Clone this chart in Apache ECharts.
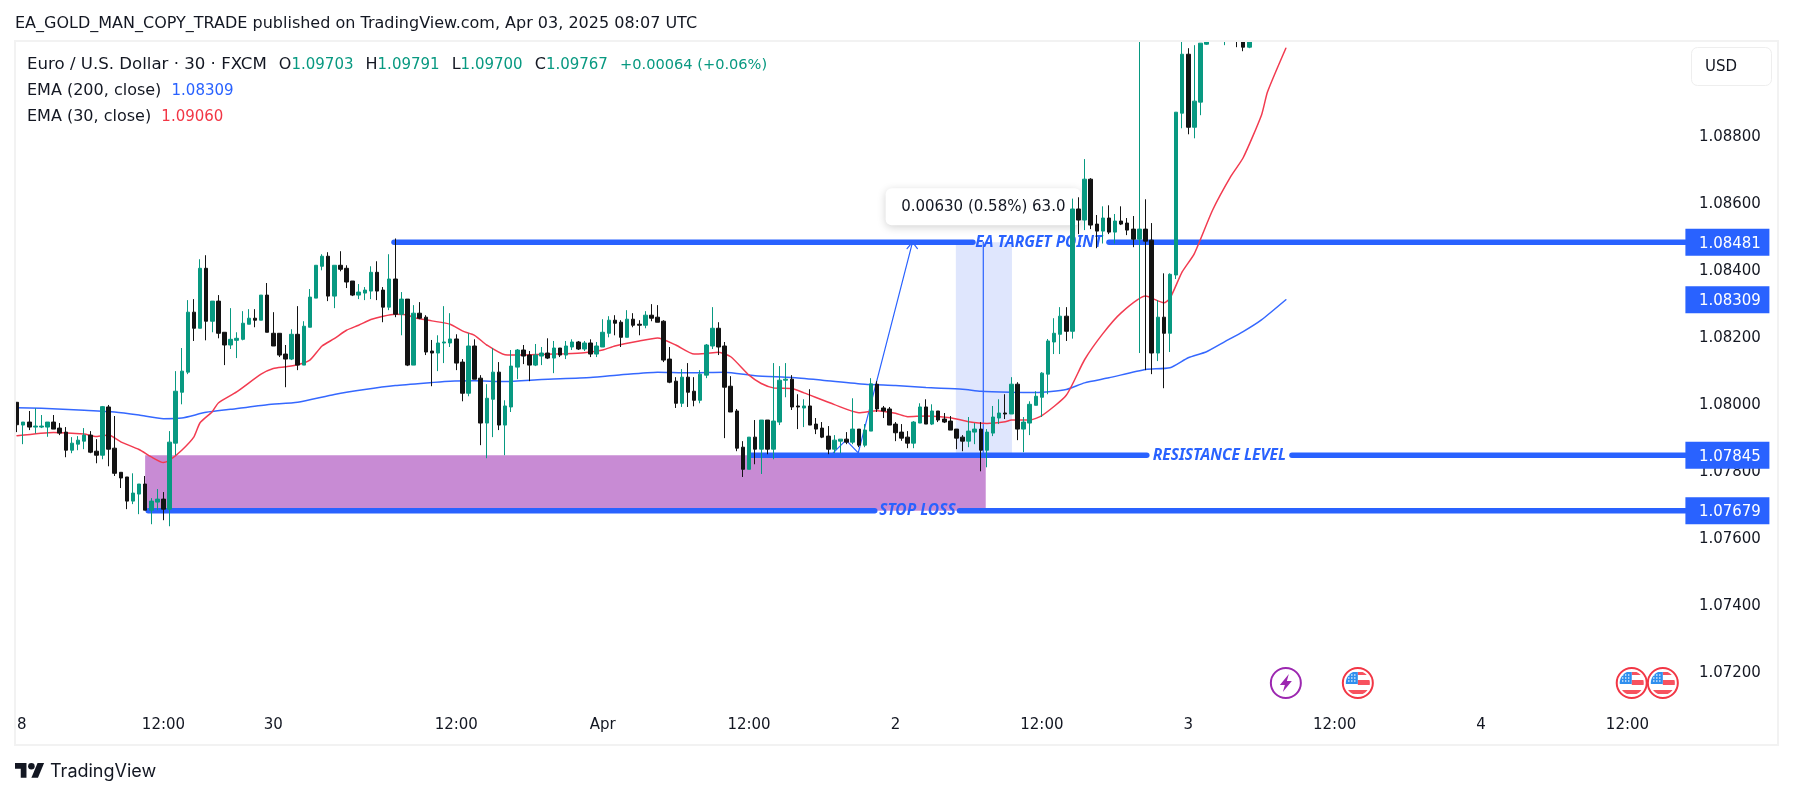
<!DOCTYPE html>
<html><head><meta charset="utf-8">
<style>html,body{margin:0;padding:0;background:#fff}#c{width:1793px;height:798px}</style>
<script src="https://cdn.jsdelivr.net/npm/echarts@6/dist/echarts.min.js"></script>
</head><body><div id="c"></div>
<script>
// Prices in 1e-5 units (points), one entry per 30-minute bar
const opens=[108003,107935,107944,107929,107929,107929,107944,107926,107914,107860,107878,107887,107905,107857,107845,107989,107866,107794,107780,107708,107729,107759,107681,107705,107714,107684,107881,108033,108093,108272,108224,108403,108245,108305,108212,108174,108188,108191,108236,108254,108248,108323,108209,108209,108147,108132,108206,108114,108227,108314,108409,108439,108320,108412,108403,108365,108323,108329,108335,108391,108338,108287,108371,108266,108311,108114,108269,108257,108156,108150,108180,108180,108192,108123,108030,108171,108075,107941,108012,108093,107935,107989,108108,108159,108144,108114,108141,108150,108135,108165,108144,108168,108183,108162,108180,108147,108168,108209,108248,108242,108197,108251,108236,108233,108263,108257,108245,108132,108066,108000,108078,108036,108009,108084,108171,108224,108171,108051,107977,107869,107803,107899,107863,107950,107863,107944,108069,108072,107992,107986,107992,107938,107926,107902,107863,107887,107893,107884,107923,107875,107917,108057,107986,107983,107938,107914,107899,107881,107941,107989,107938,107977,107953,107947,107923,107899,107887,107914,107923,107860,107911,107956,107971,107968,108057,107923,107941,107994,108018,108087,108183,108206,108260,108215,108580,108547,108669,108535,108514,108553,108511,108544,108538,108520,108490,108520,108487,108150,108257,108209,108383,108866,109042,108824,108899,109072,109120,109180,109170,109250,109250,109140,109063,109180,109360,109500,109580,109650,109703];
const highs=[108003,107944,107977,107985,107965,107944,107965,107941,107929,107899,107902,107926,107917,107893,107992,107995,107962,107794,107780,107791,107759,107783,107717,107744,107735,107917,108096,108165,108308,108311,108430,108442,108305,108323,108212,108284,108212,108275,108281,108281,108323,108359,108272,108209,108174,108221,108290,108245,108341,108412,108445,108451,108412,108454,108412,108365,108356,108347,108409,108424,108347,108445,108492,108332,108311,108293,108302,108263,108189,108203,108290,108269,108206,108132,108209,108191,108084,108057,108165,108123,108009,108159,108162,108174,108156,108177,108168,108194,108186,108165,108186,108191,108186,108186,108191,108183,108251,108260,108263,108248,108278,108269,108248,108275,108296,108293,108248,108168,108078,108102,108120,108078,108099,108177,108287,108242,108183,108081,107983,107887,107899,107950,107950,107950,108120,108111,108120,108084,108027,108012,108042,107956,107944,107932,107905,107893,107914,108015,107923,107938,108075,108066,107992,107989,107944,107938,107917,107947,108000,108012,107997,107977,107971,107962,107923,107905,107959,107941,107944,107923,107992,108012,108027,108078,108063,107959,108006,108036,108093,108192,108254,108287,108287,108611,108615,108729,108672,108562,108588,108591,108565,108588,108553,108559,109100,108609,108538,108308,108388,108388,108869,109081,109060,109069,109075,109100,109220,109300,109280,109340,109290,109180,109220,109400,109540,109640,109700,109740,109791];
const lows=[107914,107878,107920,107910,107926,107900,107923,107905,107839,107851,107860,107863,107851,107821,107833,107812,107783,107747,107684,107699,107669,107681,107639,107681,107651,107633,107845,107997,108087,108186,108224,108188,108212,108194,108114,108162,108135,108188,108236,108227,108248,108212,108171,108138,108048,108129,108099,108114,108227,108314,108397,108305,108284,108394,108344,108320,108311,108308,108311,108308,108242,108278,108257,108203,108111,108114,108251,108144,108051,108096,108120,108168,108099,108006,108021,108072,107875,107836,107899,107920,107845,107974,108072,108117,108066,108111,108114,108132,108090,108138,108132,108159,108159,108156,108138,108138,108168,108197,108203,108168,108197,108227,108203,108224,108245,108242,108123,108060,107986,107989,107989,107991,108000,108075,108162,108144,107896,107974,107857,107780,107803,107818,107789,107848,107833,107935,108018,107980,107923,107929,107935,107908,107896,107848,107851,107851,107878,107878,107869,107869,107917,107974,107956,107935,107887,107888,107866,107866,107941,107938,107935,107944,107941,107920,107863,107857,107869,107878,107797,107809,107902,107938,107953,107968,107890,107854,107905,107994,107959,108027,108147,108147,108186,108193,108505,108517,108520,108463,108477,108505,108477,108532,108502,108466,108150,108099,108087,108126,108045,108153,108371,108821,108803,108791,108860,109070,109095,109150,109069,109200,109063,109051,109060,109150,109340,109470,109560,109620,109700];
const closes=[107936,107944,107929,107932,107932,107944,107923,107911,107860,107881,107890,107905,107854,107845,107990,107863,107791,107777,107708,107732,107759,107681,107708,107714,107684,107884,108036,108096,108272,108224,108403,108245,108305,108209,108174,108191,108194,108239,108254,108248,108323,108212,108171,108144,108132,108206,108114,108230,108317,108412,108439,108320,108412,108400,108362,108323,108332,108338,108391,108335,108287,108371,108266,108311,108114,108269,108254,108153,108150,108180,108183,108192,108120,108030,108171,108072,107941,108015,108093,107935,107992,108111,108159,108141,108114,108144,108150,108135,108165,108144,108171,108183,108162,108180,108147,108171,108212,108248,108239,108197,108251,108233,108233,108263,108254,108242,108129,108063,108000,108078,108033,108009,108087,108174,108224,108168,108048,107974,107866,107803,107899,107863,107950,107863,107947,108069,108072,107989,107989,107992,107935,107923,107899,107863,107890,107893,107884,107923,107875,107920,108058,107983,107977,107935,107912,107896,107881,107944,107989,107938,107977,107950,107944,107920,107896,107887,107917,107923,107860,107914,107959,107971,107968,108057,107923,107944,107997,108021,108090,108186,108209,108260,108215,108580,108547,108669,108532,108514,108553,108511,108544,108535,108517,108490,108520,108484,108150,108257,108209,108385,108869,109042,108824,108902,109075,109100,109180,109240,109250,109300,109130,109063,109180,109360,109500,109580,109650,109703,109767];

// Time axis: which bar carries which label
const tickBars=[0,24,42,72,96,120,144,168,192,216,240,264];
const tickNames=['28','12:00','30','12:00','Apr','12:00','2','12:00','3','12:00','4','12:00'];
const barCount=274;

// EMA readings: bar number and price in points
const ema30Bars=[0,6,11,13,15,17,20,22,24,25,27,29,30,32,33,36,40,42,44,46,48,50,52,54,56,58,60,62,64,65,68,71,73,75,77,80,83,86,90,93,96,98,102,105,108,111,113,115,117,120,122,124,127,129,134,138,141,144,146,149,153,156,159,162,163,166,168,172,175,178,181,185,188,189,191,193,196,199,201,204,205,208];
const ema30Values=[107903,107913,107908,107901,107905,107885,107862,107840,107823,107830,107860,107900,107942,107975,108001,108034,108087,108104,108109,108115,108129,108171,108193,108218,108233,108250,108260,108266,108264,108256,108246,108236,108216,108203,108174,108145,108144,108146,108148,108151,108159,108171,108186,108195,108174,108147,108149,108152,108139,108084,108059,108046,108044,108031,107996,107972,107978,107970,107960,107962,107957,107945,107940,107945,107950,107950,107963,108024,108130,108208,108270,108320,108300,108313,108392,108447,108577,108678,108733,108860,108930,109060];
const ema200Bars=[0,4,11,16,20,24,27,31,35,41,46,52,57,62,68,71,75,80,86,94,99,105,110,116,121,127,132,139,144,149,155,158,163,167,172,175,179,185,189,192,195,198,201,204,208];
const ema200Values=[107987,107985,107979,107974,107965,107954,107956,107973,107982,107996,108003,108026,108041,108053,108062,108066,108067,108065,108071,108077,108085,108093,108091,108093,108082,108077,108069,108057,108053,108047,108042,108036,108033,108032,108041,108061,108076,108101,108106,108136,108154,108184,108214,108249,108309];

// Price levels and their labels
const levelPrices=[108481,107845,107679];
const levelStart=[62.3,120.8,22];
const levelGapFrom=[157.2,185.7,141.1];
const levelGapTo=[179.5,209.5,155];
const levelNames=['EA TARGET POINT','RESISTANCE LEVEL','STOP LOSS'];
const levelNameBar=[168,197.6,148.1];
const emaLast=[108309];
const priceTicks=[107200,107400,107600,107800,108000,108200,108400,108600,108800];

// Drawings: [barFrom, barTo, priceLow, priceHigh]
const purpleZone=[21.5,159.3,107679,107845];
const measureZone=[154.4,163.6,107845,108481];
const measureLineBar=158.9;
const pathBars=[134.3,136.4,138.4,147.3];
const pathPrices=[107852,107890,107852,108481];
const arrowBars=[146.4,147.3,148.1];
const arrowPrices=[108462,108481,108462];
const measureText='0.00630 (0.58%) 63.0';
const measureAt=[158.9,108587];

// Economic-event markers along the bottom
const eventBars=[208.5,220.3,265.2,270.3];
const eventKinds=['bolt','flag','flag','flag'];
const eventPrice=107165;

const P=v=>v/1e5;
const FONT='"DejaVu Sans"';
const INK='#131722', GREEN='#089981', BLACK='#131313', BLUE='#2962ff', RED='#f23645';

const categories=Array.from({length:barCount},(_,i)=>{const k=tickBars.indexOf(i);return k<0?'':tickNames[k];});
const candleData=opens.map((o,i)=>[P(o),P(closes[i]),P(lows[i]),P(highs[i])]);

function lineSer(pts,color,width,z,extra){
  return Object.assign({type:'line',xAxisIndex:1,yAxisIndex:0,data:pts,symbol:'none',silent:true,z:z,animation:false,
    lineStyle:{color:color,width:width,cap:'round'}},extra||{});
}
function bandSer(b,color,z){
  return {type:'custom',xAxisIndex:1,yAxisIndex:0,z:z,silent:true,animation:false,clip:true,
    encode:{x:[0,1],y:[2,3]},data:[[b[0],b[1],P(b[2]),P(b[3])]],
    renderItem:(p,api)=>{const a=api.coord([api.value(0),api.value(3)]),c=api.coord([api.value(1),api.value(2)]);
      return {type:'rect',shape:{x:a[0],y:a[1],width:c[0]-a[0],height:c[1]-a[1]},style:{fill:color}};}};
}
function disc(r,x1,x2,y1,y2){
  const L=[],R=[];
  for(let y=y1;y<=y2+0.001;y+=1){
    const h=Math.sqrt(Math.max(0,r*r-y*y));
    const a=Math.max(x1,-h),b=Math.min(x2,h);
    if(b>a){L.push([a,y]);R.unshift([b,y]);}
  }
  return L.concat(R);
}
function eventIcon(params,api){
  const c=api.coord([api.value(0),api.value(1)]);
  const kind=eventKinds[params.dataIndex];
  const kids=[];
  if(kind==='bolt'){
    kids.push({type:'circle',shape:{cx:0,cy:0,r:15},style:{fill:'#fff',stroke:'#9c27b0',lineWidth:2}});
    kids.push({type:'polygon',shape:{points:[[3,-9],[-6,2],[-1,2],[-3,9],[6,-2],[1,-2]]},style:{fill:'#9c27b0'}});
  }else{
    kids.push({type:'circle',shape:{cx:0,cy:0,r:15},style:{fill:'#fff',stroke:RED,lineWidth:2}});
    kids.push({type:'polygon',shape:{points:disc(12,0,12,-12,-8)},style:{fill:'#f7525f'}});
    kids.push({type:'polygon',shape:{points:disc(12,0,12,-3,2)},style:{fill:'#f7525f'}});
    kids.push({type:'polygon',shape:{points:disc(12,-12,12,7,12)},style:{fill:'#f7525f'}});
    kids.push({type:'polygon',shape:{points:disc(12,-12,0,-12,1)},style:{fill:'#2f8fee'}});
    [-9,-6,-3].forEach(x=>[-8,-5,-2].forEach(y=>kids.push({type:'circle',shape:{cx:x,cy:y,r:0.8},style:{fill:'#fff'}})));
  }
  return {type:'group',x:c[0],y:c[1],children:kids};
}

const series=[];
series.push(bandSer(purpleZone,'#c88bd4',1));
series.push(bandSer(measureZone,'#dfe6fd',1));
series.push(lineSer([[measureLineBar,P(measureZone[2])],[measureLineBar,P(measureZone[3])]],BLUE,1.2,2));
series.push(lineSer(pathBars.map((b,i)=>[b,P(pathPrices[i])]),BLUE,1.2,2));
series.push(lineSer(arrowBars.map((b,i)=>[b,P(arrowPrices[i])]),BLUE,1.2,2));
levelPrices.forEach((p,i)=>{
  series.push(lineSer([[levelStart[i],P(p)],[levelGapFrom[i],P(p)]],BLUE,5.5,2));
  series.push(lineSer([[levelGapTo[i],P(p)],[barCount,P(p)]],BLUE,5.5,2));
});
series.push({type:'scatter',xAxisIndex:1,yAxisIndex:0,z:2,silent:true,animation:false,symbolSize:0,itemStyle:{opacity:1},
  data:levelNames.map((n,i)=>({value:[levelNameBar[i],P(levelPrices[i])],name:n})),
  label:{show:true,position:'inside',formatter:'{b}',color:BLUE,fontFamily:'"Noto Sans"',fontSize:15.5,fontStyle:'italic',fontWeight:'bold'}});
series.push({type:'scatter',xAxisIndex:1,yAxisIndex:0,z:3,silent:true,animation:false,symbolSize:0,itemStyle:{opacity:1},
  data:[{value:[measureAt[0],P(measureAt[1])],name:measureText}],
  label:{show:true,position:'inside',formatter:'{b}',color:INK,fontFamily:FONT,fontSize:15,
    padding:[11,15.5],backgroundColor:'#fff',borderRadius:6,shadowBlur:8,shadowColor:'rgba(0,0,0,0.18)',shadowOffsetY:2}});
series.push(lineSer(ema200Bars.map((b,i)=>[b+0.5,P(ema200Values[i])]),'#3568ff',1.5,4,{smooth:0.2}));
series.push(lineSer(ema30Bars.map((b,i)=>[b+0.5,P(ema30Values[i])]),'#f23b50',1.5,4,{smooth:0.2}));
series.push({type:'candlestick',xAxisIndex:0,yAxisIndex:0,z:5,silent:true,animation:false,data:candleData,barWidth:4,clip:true,
  itemStyle:{color:GREEN,color0:BLACK,borderColor:GREEN,borderColor0:BLACK,borderWidth:1}});
series.push({type:'custom',xAxisIndex:1,yAxisIndex:0,z:6,silent:true,animation:false,encode:{x:0,y:1},
  data:eventBars.map(b=>[b,P(eventPrice)]),renderItem:eventIcon});

const boxed=levelPrices.concat(emaLast).map(P).map(v=>v.toFixed(5));
const HEAD='16px '+FONT, NUM='15px '+FONT, GAP='19px '+FONT;
const logoScale=0.82, logoX=15, logoY=759.7;
const lp=pts=>pts.map(q=>[logoX+q[0]*logoScale,logoY+q[1]*logoScale]);
const option={
  animation:false,backgroundColor:'#fff',
  grid:{left:14,top:42,width:barCount*6.1,height:665,containLabel:false},
  tooltip:{show:false},
  xAxis:[
    {type:'category',data:categories,boundaryGap:true,axisLine:{show:false},axisTick:{show:false},splitLine:{show:false},
      axisLabel:{interval:(i,v)=>v!=='',margin:11,color:INK,fontFamily:FONT,fontSize:15,hideOverlap:false}},
    {type:'value',min:0,max:barCount,show:false}
  ],
  yAxis:[{type:'value',position:'right',min:1.070934,max:1.090785,
    axisLine:{show:false},axisTick:{show:false},splitLine:{show:false},
    axisLabel:{margin:0,align:'left',fontFamily:FONT,fontSize:15,color:INK,
      customValues:priceTicks.map(P).concat(levelPrices.map(P),emaLast.map(P)),
      formatter:v=>{const s=v.toFixed(5);return boxed.indexOf(s)>=0?'{b|'+s+'}':'{t|'+s+'}';},
      rich:{t:{width:79,align:'center',padding:[3,0,0,5],color:INK,fontFamily:FONT,fontSize:15},
            b:{width:79,height:24,lineHeight:24,align:'center',padding:[3,0,0,5],color:'#fff',backgroundColor:BLUE,fontFamily:FONT,fontSize:15}}}}],
  series:series,
  graphic:{elements:[
    {type:'rect',z:100,silent:true,shape:{x:0,y:0,width:1793,height:41},style:{fill:'#fff'}},
    {type:'rect',z:100,silent:true,shape:{x:0,y:708,width:15,height:30},style:{fill:'#fff'}},
    {type:'rect',z:101,silent:true,shape:{x:15,y:41,width:1763,height:704},style:{fill:'none',stroke:'#f2f2f2',lineWidth:2}},
    {type:'text',z:110,silent:true,x:15,y:24,style:{text:'EA_GOLD_MAN_COPY_TRADE published on TradingView.com, Apr 03, 2025 08:07 UTC',fill:INK,font:HEAD,verticalAlign:'middle'}},
    {type:'text',z:110,silent:true,x:27,y:65,style:{text:'{h|Euro / U.S. Dollar · 30 · FXCM}{s|  }{k|O}{g|1.09703}{s|  }{k|H}{g|1.09791}{s|  }{k|L}{g|1.09700}{s|  }{k|C}{g|1.09767}{s|  }{c|+0.00064 (+0.06%)}',verticalAlign:'middle',
      rich:{h:{fill:INK,font:'16.6px '+FONT},k:{fill:INK,font:HEAD},g:{fill:GREEN,font:NUM},c:{fill:GREEN,font:'14.6px '+FONT},s:{font:GAP}}}},
    {type:'text',z:110,silent:true,x:27,y:91,style:{text:'{k|EMA (200, close)  }{b|1.08309}',verticalAlign:'middle',
      rich:{k:{fill:INK,font:HEAD},b:{fill:BLUE,font:NUM}}}},
    {type:'text',z:110,silent:true,x:27,y:117,style:{text:'{k|EMA (30, close)  }{r|1.09060}',verticalAlign:'middle',
      rich:{k:{fill:INK,font:HEAD},r:{fill:RED,font:NUM}}}},
    {type:'rect',z:110,silent:true,shape:{x:1691.5,y:47.5,width:80,height:38,r:6},style:{fill:'#fff',stroke:'#eeeeee',lineWidth:1}},
    {type:'text',z:111,silent:true,x:1705,y:67,style:{text:'USD',fill:INK,font:'15px '+FONT,verticalAlign:'middle'}},
    {type:'polygon',z:110,silent:true,shape:{points:lp([[0,4],[14,4],[14,22],[7,22],[7,11],[0,11]])},style:{fill:INK}},
    {type:'polygon',z:110,silent:true,shape:{points:lp([[27.5,4],[35.5,4],[28,22],[20,22]])},style:{fill:INK}},
    {type:'circle',z:110,silent:true,shape:{cx:logoX+20*logoScale,cy:logoY+8*logoScale,r:4*logoScale},style:{fill:INK}},
    {type:'text',z:110,silent:true,x:50,y:772,style:{text:'TradingView',fill:INK,font:'18px Inter',verticalAlign:'middle'}}
  ]}
};
echarts.init(document.getElementById('c')).setOption(option);
</script></body></html>
